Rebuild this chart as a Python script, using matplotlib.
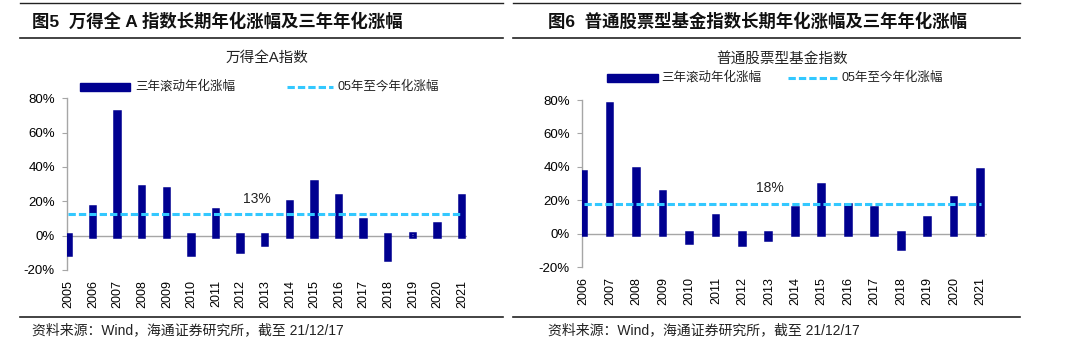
import matplotlib
matplotlib.use("Agg")
import matplotlib.pyplot as plt
from matplotlib.lines import Line2D
from matplotlib.patches import Rectangle
from matplotlib.ticker import FuncFormatter

plt.rcParams['font.family'] = ['Liberation Sans', 'Noto Sans CJK SC', 'DejaVu Sans']

# ---------------- data ----------------
years_a = ['2005', '2006', '2007', '2008', '2009', '2010', '2011', '2012', '2013',
           '2014', '2015', '2016', '2017', '2018', '2019', '2020', '2021']
roll3_a = [-10.6, 16.3, 71.3, 27.9, 26.8, -10.6, 14.4, -9.0, -5.0,
           19.0, 30.7, 22.7, 8.3, -13.4, 0.3, 6.2, 22.7]
long_a = 12.8
long_a_label = '13%'

years_f = ['2006', '2007', '2008', '2009', '2010', '2011', '2012', '2013',
           '2014', '2015', '2016', '2017', '2018', '2019', '2020', '2021']
roll3_f = [36.6, 76.8, 38.0, 24.7, -4.6, 9.9, -6.2, -2.8,
           15.1, 28.3, 16.7, 14.7, -8.4, 9.1, 20.9, 37.6]
long_f = 17.7
long_f_label = '18%'

yticks = [-20, 0, 20, 40, 60, 80]

fig_title_a = '图5  万得全 A 指数长期年化涨幅及三年年化涨幅'
fig_title_f = '图6  普通股票型基金指数长期年化涨幅及三年年化涨幅'
chart_title_a = '万得全A指数'
chart_title_f = '普通股票型基金指数'
leg_bar = '三年滚动年化涨幅'
leg_line = '05年至今年化涨幅'
source = '资料来源：Wind，海通证券研究所，截至 21/12/17'

# ---------------- style ----------------
W, H = 1080, 351
BAR = '#000090'
CYAN = '#33C8FF'
GRAY = '#A6A6A6'

fig = plt.figure(figsize=(W / 100, H / 100), dpi=100)


def fx(px):
    return px / W


def fy(py):
    return 1 - py / H


def panel(ax_rect, years, vals, longv, longlab, lab_pos, xlim, bar_w):
    ax = fig.add_axes(ax_rect)
    xs = list(range(len(years)))
    ax.bar(xs, vals, width=bar_w, color=BAR, edgecolor=BAR, linewidth=4.0,
           zorder=3, joinstyle='miter')
    ax.plot(xs, [longv] * len(xs), color=CYAN, lw=2.2,
            linestyle=(0, (2.4, 1.0)), zorder=4)
    ax.axhline(0, color=GRAY, lw=1.0, zorder=2)
    ax.text(lab_pos[0], lab_pos[1], longlab, fontsize=10, ha='center',
            va='center', color='#222222')
    ax.set_xlim(*xlim)
    ax.set_ylim(-20, 80)
    ax.set_yticks(yticks)
    ax.yaxis.set_major_formatter(FuncFormatter(lambda v, p: f'{v:.0f}%'))
    ax.set_xticks(xs)
    ax.set_xticklabels(years, rotation=90, fontsize=9)
    ax.tick_params(axis='x', length=0, pad=7)
    ax.tick_params(axis='y', length=3.5, width=0.8, color=GRAY, labelsize=9.5,
                   pad=5)
    for s in ['top', 'right', 'bottom']:
        ax.spines[s].set_visible(False)
    ax.spines['left'].set_color(GRAY)
    ax.spines['left'].set_linewidth(1.0)
    ax.patch.set_alpha(0)
    return ax


# left panel axes: y-axis at x=66.7, right end 466.7, 80% at 98.3, -20% at 270
panel([fx(66.7), fy(270), fx(400), (270 - 98.3) / H], years_a, roll3_a,
      long_a, long_a_label, (7.66, 21.2), (-0.07, 16.19), 0.1)
# right panel axes: y-axis at 581.7, right end 986.7, 80% at 100, -20% at 267.3
panel([fx(581.7), fy(267.3), fx(405), (267.3 - 100) / H], years_f, roll3_f,
      long_f, long_f_label, (7.05, 27.3), (-0.068, 15.23), 0.1)


def hline(x0, x1, y, lw):
    fig.add_artist(Line2D([fx(x0), fx(x1)], [fy(y), fy(y)], color='#222222',
                          lw=lw, transform=fig.transFigure))


# frame lines
for (x0, x1) in [(20, 503), (513, 1020)]:
    hline(x0, x1, 3.3, 1.0)
    hline(x0, x1, 37.7, 1.2)
    hline(x0, x1, 316.7, 1.2)

# figure titles
fig.text(fx(32), fy(20.7), fig_title_a, fontsize=12.5, fontweight='bold',
         va='center', ha='left', color='#111111')
fig.text(fx(548), fy(20.7), fig_title_f, fontsize=12.5, fontweight='bold',
         va='center', ha='left', color='#111111')

# chart titles
fig.text(fx(267), fy(58.3), chart_title_a, fontsize=10.5, ha='center',
         va='center', color='#222222')
fig.text(fx(781.7), fy(58.3), chart_title_f, fontsize=10.5, ha='center',
         va='center', color='#222222')


def legend(px0, px1, py, tx1, lx0, lx1, tx2):
    fig.add_artist(Rectangle((fx(px0), fy(py + 4)), fx(px1 - px0), 8 / H,
                             color=BAR, transform=fig.transFigure))
    fig.text(fx(tx1), fy(py), leg_bar, fontsize=9, va='center', ha='left',
             color='#222222')
    fig.add_artist(Line2D([fx(lx0), fx(lx1)], [fy(py), fy(py)], color=CYAN,
                          lw=2.2, linestyle=(0, (2.4, 1.0)),
                          transform=fig.transFigure))
    fig.text(fx(tx2), fy(py), leg_line, fontsize=9, va='center', ha='left',
             color='#222222')


legend(80, 130, 86.7, 135, 287, 333, 337)
legend(606.7, 658.3, 77.5, 661.7, 788.3, 838.3, 841.7)

# sources
fig.text(fx(32), fy(330.7), source, fontsize=10, va='center', ha='left',
         color='#222222')
fig.text(fx(548.3), fy(330.7), source, fontsize=10, va='center', ha='left',
         color='#222222')

fig.savefig('out.png', dpi=100)
